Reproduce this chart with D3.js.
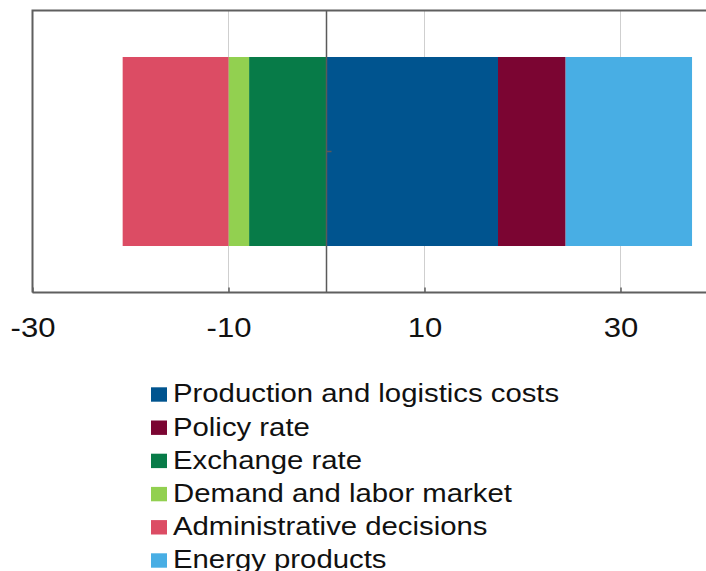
<!DOCTYPE html>
<html>
<head>
<meta charset="utf-8">
<script src="https://cdn.jsdelivr.net/npm/d3@7"></script>
<style>
  html, body { margin: 0; padding: 0; background: #fff; }
  svg { display: block; font-family: "Liberation Sans", Arial, sans-serif; }
</style>
</head>
<body>
<svg id="chart" width="706" height="571"></svg>
<script>
// Contributions by factor (percentage points)
const factors = [
  "Production and logistics costs",
  "Policy rate",
  "Exchange rate",
  "Demand and labor market",
  "Administrative decisions",
  "Energy products"
];
const contributions = [17.5, 6.9, -7.9, -2.1, -10.8, 12.9];
const colors = ["#00548f", "#7b0532", "#077b48", "#92d050", "#dc4c64", "#48aee4"];
const tickValues = [-30, -10, 10, 30];

const svg = d3.select("#chart");
const W = 706, H = 571;
const plot = { left: 32.5, top: 10.5, bottom: 292.5 };
const sx = 1.15; // horizontal stretch of the text

const x = d3.scaleLinear().domain([-30, 40]).range([plot.left, plot.left + 9.8 * 70]);
const y = d3.scaleBand().domain(["all"]).range([plot.top, plot.bottom]).paddingInner(0).paddingOuter(0.246);

const row = { key: "all" };
factors.forEach((f, i) => row[f] = contributions[i]);
const stacked = d3.stack().keys(factors).offset(d3.stackOffsetDiverging)([row]);

// grid lines
svg.append("g").selectAll("line").data(tickValues.filter(v => v !== -30)).join("line")
  .attr("x1", d => x(d)).attr("x2", d => x(d))
  .attr("y1", plot.top).attr("y2", plot.bottom)
  .attr("stroke", "#cfcfcf").attr("stroke-width", 1);

// bars
svg.append("g").selectAll("rect").data(stacked).join("rect")
  .attr("x", s => x(Math.min(s[0][0], s[0][1])))
  .attr("width", s => Math.abs(x(s[0][1]) - x(s[0][0])))
  .attr("y", y("all"))
  .attr("height", y.bandwidth())
  .attr("fill", (s, i) => colors[i]);

// zero line
svg.append("line")
  .attr("x1", x(0)).attr("x2", x(0))
  .attr("y1", plot.top).attr("y2", plot.bottom)
  .attr("stroke", "#5a5a5a").attr("stroke-width", 1.5);
svg.append("line")
  .attr("x1", x(0)).attr("x2", x(0) + 5)
  .attr("y1", y("all") + y.bandwidth() / 2).attr("y2", y("all") + y.bandwidth() / 2)
  .attr("stroke", "#5a5a5a").attr("stroke-width", 1.5);

// frame: top, left
svg.append("path")
  .attr("d", `M${W + 5},${plot.top} H${plot.left} V${plot.bottom}`)
  .attr("fill", "none").attr("stroke", "#5f5f5f").attr("stroke-width", 2);

// bottom axis
const xAxis = d3.axisBottom(x).tickValues(tickValues).tickSize(0).tickPadding(0).tickFormat(d => String(d));
const ax = svg.append("g").attr("transform", `translate(0,${plot.bottom})`).call(xAxis);
ax.select(".domain").remove();
ax.append("line").attr("x1", plot.left).attr("x2", W + 5)
  .attr("stroke", "#5f5f5f").attr("stroke-width", 2);
ax.selectAll(".tick").append("line")
  .attr("y1", 0).attr("y2", -5).attr("stroke", "#5f5f5f").attr("stroke-width", 1.5);
ax.selectAll(".tick text")
  .attr("y", 0).attr("dy", null)
  .attr("transform", `translate(0,44) scale(${sx},1)`)
  .attr("font-size", 27).attr("fill", "#111")
  .attr("font-family", "Liberation Sans, Arial, sans-serif");

// legend
const legend = svg.append("g").attr("transform", "translate(151,0)");
const items = legend.selectAll("g").data(factors).join("g")
  .attr("transform", (d, i) => `translate(0,${402.3 + i * 33.2})`);
items.append("rect").attr("x", 0).attr("y", -15).attr("width", 16).attr("height", 14.4)
  .attr("fill", (d, i) => colors[i]);
items.append("text")
  .attr("transform", `translate(22,0) scale(${sx},1)`)
  .attr("font-size", 25.5).attr("fill", "#111").text(d => d);
</script>
</body>
</html>
